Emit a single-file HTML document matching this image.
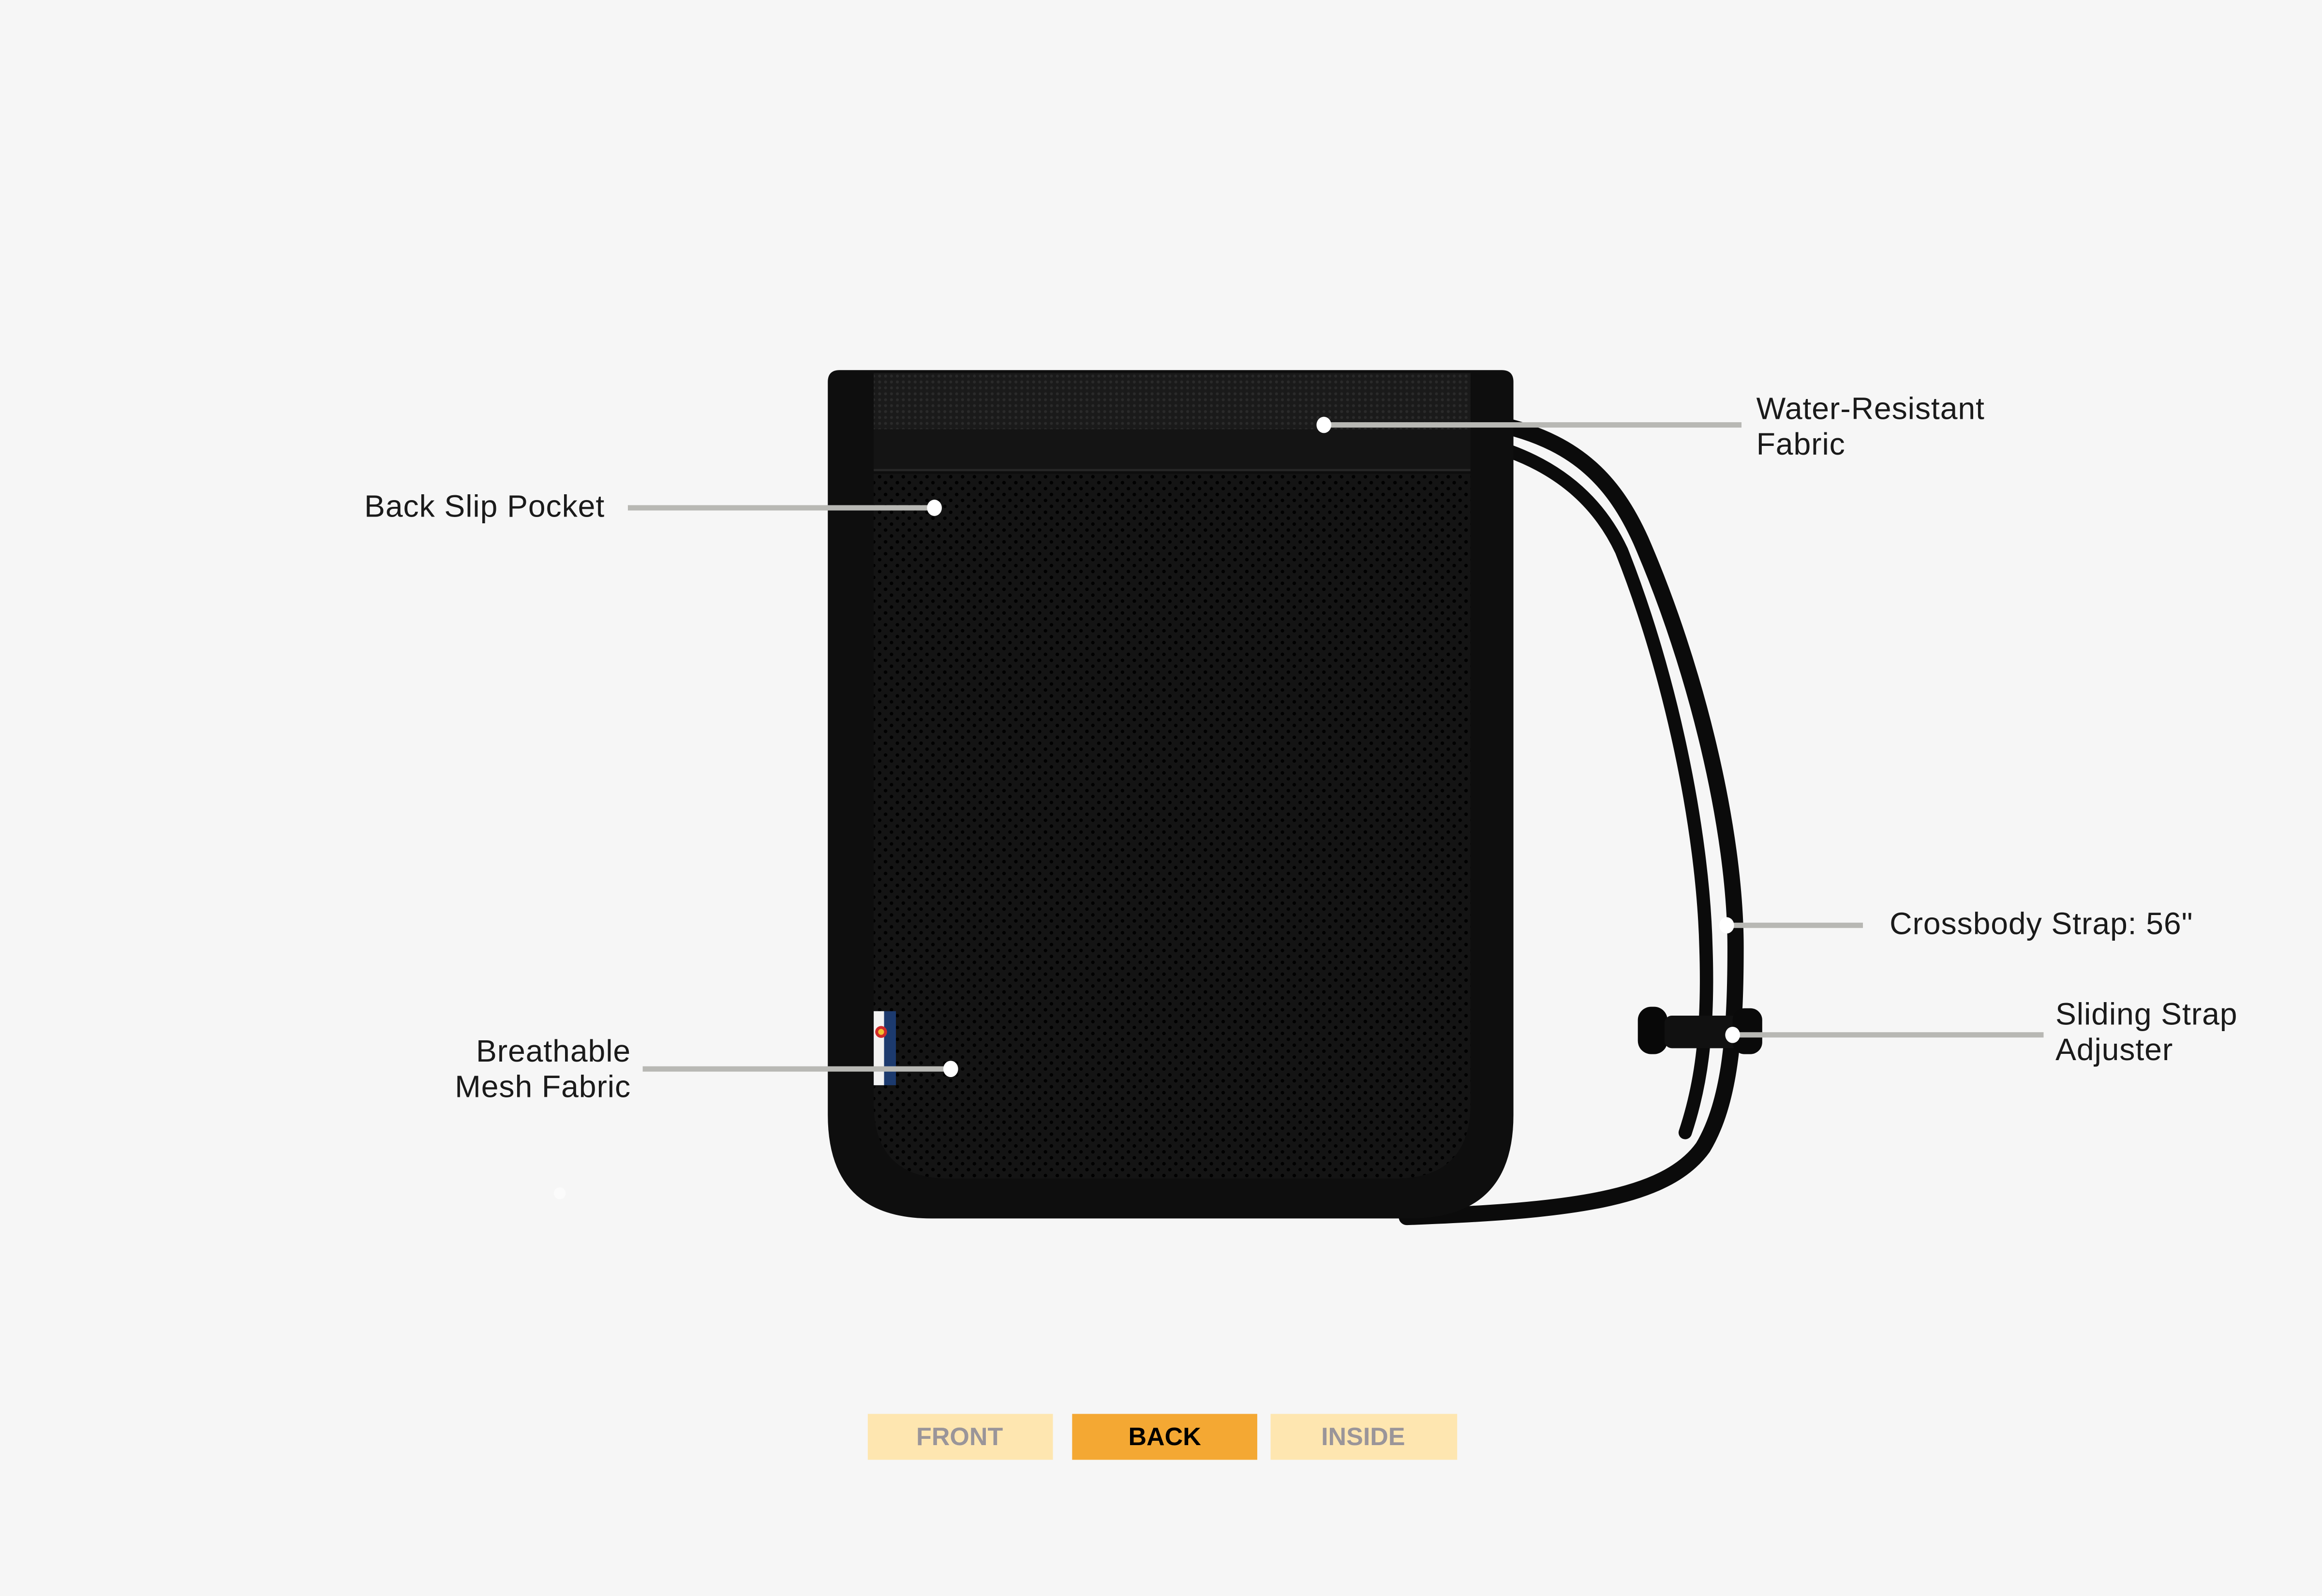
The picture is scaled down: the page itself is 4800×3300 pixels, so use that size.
<!DOCTYPE html>
<html><head><meta charset="utf-8"><style>
html,body{margin:0;padding:0;background:#f6f6f6;}
body{width:4800px;height:3300px;overflow:hidden;position:relative;}
#s{position:absolute;left:0;top:0;width:1568px;height:1078px;transform:scale(3.06122);transform-origin:0 0;}
.t{position:absolute;font-family:"Liberation Sans",sans-serif;font-size:21px;color:#1a1a1a;line-height:24px;letter-spacing:0.3px;font-weight:300;}
.btn{position:absolute;top:954.5px;height:31.5px;font-family:"Liberation Sans",sans-serif;font-weight:bold;font-size:17px;line-height:31.5px;text-align:center;}
</style></head><body><div id="s">
<svg width="1568" height="1078" style="position:absolute;left:0;top:0">
<defs>
<pattern id="mesh" width="8" height="8" patternUnits="userSpaceOnUse">
<rect width="8" height="8" fill="#141414"/>
<circle cx="2" cy="2" r="1.2" fill="#000"/><circle cx="6" cy="6" r="1.2" fill="#000"/>
</pattern>
<pattern id="weave" width="4" height="4" patternUnits="userSpaceOnUse">
<rect width="4" height="4" fill="#1a1a1a"/><circle cx="2" cy="2" r="1" fill="#2a2a2a"/>
</pattern>
</defs>
<!-- strap -->
<g fill="none" stroke="#0b0b0b" stroke-linecap="round">
<path d="M1018,288 C1065,300 1090,325 1108,365 C1145,450 1172,560 1172,640 C1172,700 1168,745 1150,775 C1125,810 1060,818 950,822" stroke-width="11"/>
<path d="M1020,305 C1055,318 1080,340 1095,372 C1128,455 1150,560 1152,640 C1154,700 1148,735 1138,765" stroke-width="9"/>
</g>
<!-- adjuster -->
<rect x="1106" y="680" width="20" height="32" rx="9" fill="#080808"/>
<rect x="1124" y="686" width="50" height="22" rx="5" fill="#111"/>
<rect x="1170" y="681" width="20" height="31" rx="8" fill="#0a0a0a"/>
<!-- bag body -->
<path d="M567,250 H1014 Q1022,250 1022,258 V753 Q1022,823 952,823 H629 Q559,823 559,753 V258 Q559,250 567,250 Z" fill="#0e0e0e"/>
<rect x="590" y="252" width="403" height="38" fill="url(#weave)"/>
<rect x="590" y="290" width="403" height="28" fill="#141414"/>
<line x1="590" y1="317.5" x2="993" y2="317.5" stroke="#262626" stroke-width="1.5"/>
<path d="M590,320 H993 V745 Q993,796 942,796 H641 Q590,796 590,745 Z" fill="url(#mesh)"/>
<!-- flag tag -->
<rect x="590" y="683" width="15" height="50" fill="#1c3a6e"/>
<rect x="590" y="683" width="7" height="50" fill="#f2f2f2"/>
<circle cx="595" cy="697" r="4" fill="#d02a2a"/><circle cx="595" cy="697" r="2" fill="#f2c230"/>
<!-- leader lines -->
<g stroke="#b8b8b4" stroke-width="3.6">
<line x1="424" y1="343" x2="631" y2="343"/>
<line x1="894" y1="287" x2="1176" y2="287"/>
<line x1="1166" y1="625" x2="1258" y2="625"/>
<line x1="1170" y1="699" x2="1380" y2="699"/>
<line x1="434" y1="722" x2="642" y2="722"/>
</g>
<g fill="#fff">
<ellipse cx="631" cy="343" rx="5" ry="5.5"/>
<ellipse cx="894" cy="287" rx="5" ry="5.5"/>
<ellipse cx="1166" cy="625" rx="5" ry="5.5"/>
<ellipse cx="1170" cy="699" rx="5" ry="5.5"/>
<ellipse cx="642" cy="722" rx="5" ry="5.5"/>
<circle cx="378" cy="806" r="4" fill="#fbfbfb"/>
</g>
</svg>
<div class="t" style="left:246px;top:331px">Back Slip Pocket</div>
<div class="t" style="left:1186px;top:265px">Water-Resistant<br>Fabric</div>
<div class="t" style="left:1276px;top:613px">Crossbody Strap: 56"</div>
<div class="t" style="left:1388px;top:674px">Sliding Strap<br>Adjuster</div>
<div class="t" style="left:226px;top:699px;width:200px;text-align:right">Breathable<br>Mesh Fabric</div>
<div class="btn" style="left:585.5px;width:125px;background:#fee6b0;color:#9a9599">FRONT</div>
<div class="btn" style="left:724px;width:125px;background:#f4a833;color:#000">BACK</div>
<div class="btn" style="left:857.5px;width:126px;background:#fee6b0;color:#9a9599">INSIDE</div>
</div></body></html>
